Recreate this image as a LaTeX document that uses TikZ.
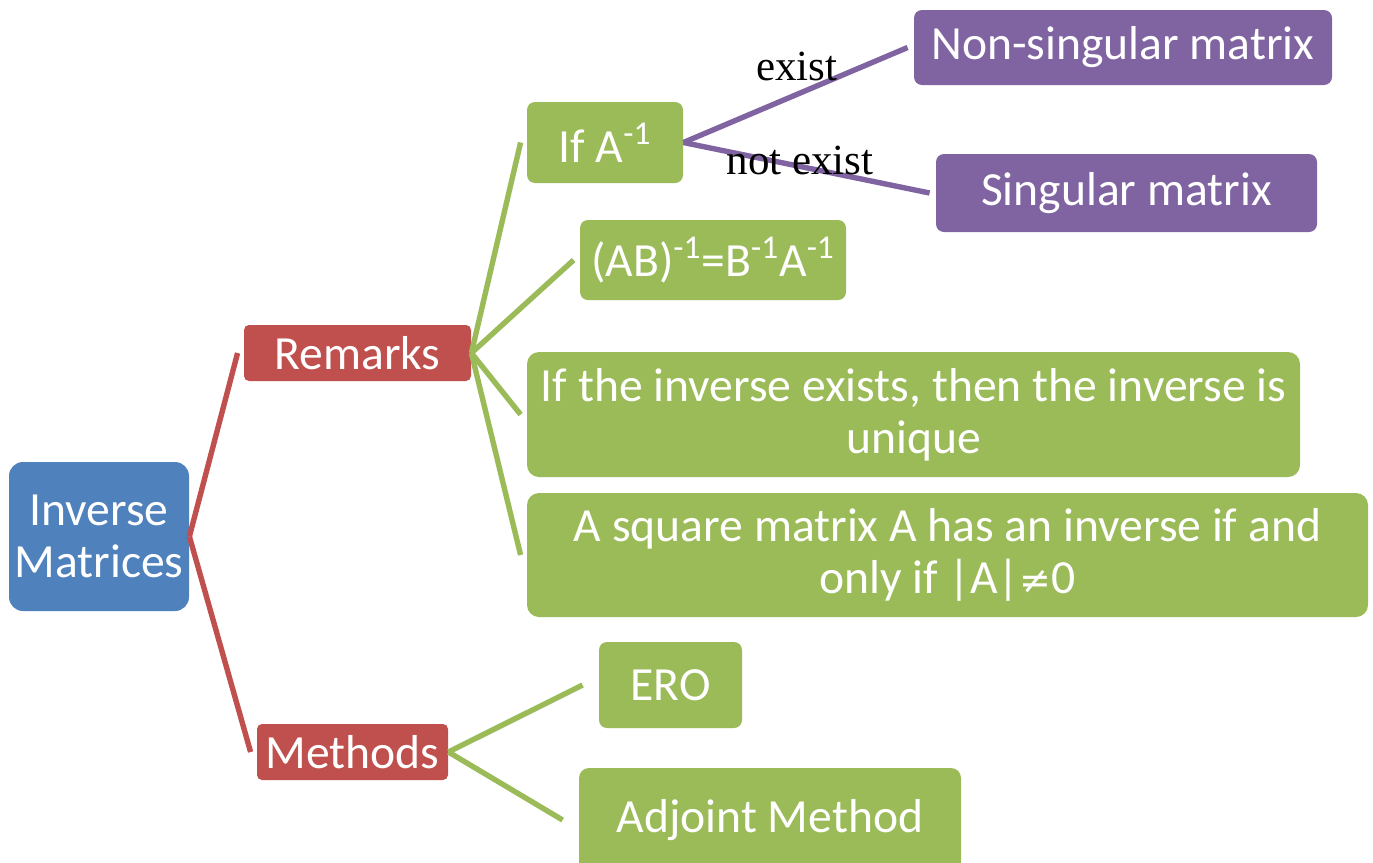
\documentclass[tikz,border=0pt]{standalone}
\usepackage{fontspec}
\setmainfont{Carlito}
\newfontfamily\labelfont{Liberation Serif}
\newfontfamily\symfont{DejaVu Sans}
\definecolor{rootblue}{HTML}{4F81BD}
\definecolor{levelred}{HTML}{C0504D}
\definecolor{leafgreen}{HTML}{9BBB59}
\definecolor{leafpurple}{HTML}{8064A2}
\tikzset{
  box/.style={fill=#1, draw=none, text=white, align=center, inner sep=0pt,
    font=\fontsize{23.8}{26}\selectfont},
  link/.style={draw=#1, line width=2.7pt, line cap=butt},
  edgelabel/.style={font=\labelfont\fontsize{21.5}{24}\selectfont, text=black, inner sep=0pt}
}
\newcommand{\inv}{\textsuperscript{-1}}
\begin{document}
\begin{tikzpicture}[x=0.5pt, y=-0.5pt]
  \useasboundingbox (0,0) rectangle (1373,863);
  \clip (0,0) rectangle (1373,863);

  % root and first level
  \node[box=rootblue, rounded corners=7pt, minimum width=90pt, minimum height=74.5pt]
    (root) at (99,536.5) {Inverse\\Matrices};
  \node[box=levelred, rounded corners=2.5pt, minimum width=113.5pt, minimum height=28pt]
    (remarks) at (357.5,353) {Remarks};
  \node[box=levelred, rounded corners=2.5pt, minimum width=95.5pt, minimum height=28pt]
    (methods) at (352.5,752) {Methods};

  % remarks
  \node[box=leafgreen, rounded corners=4pt, minimum width=78pt, minimum height=40.5pt]
    (ifa) at (605,142.5) {If A\inv};
  \node[box=leafgreen, rounded corners=4pt, minimum width=133pt, minimum height=40pt]
    (prod) at (713,260) {(AB)\inv=B\inv A\inv};
  \node[box=leafgreen, rounded corners=6pt, minimum width=386.5pt, minimum height=62.5pt]
    (unique) at (913.5,414.5) {If the inverse exists, then the inverse is\\unique};
  \node[box=leafgreen, rounded corners=6pt, minimum width=420.5pt, minimum height=62pt]
    (square) at (947.5,555) {A square matrix A has an inverse if and\\only if |A|{\symfont\fontsize{19}{26}\selectfont ≠}0};

  % methods
  \node[box=leafgreen, rounded corners=4pt, minimum width=71.5pt, minimum height=43pt]
    (ero) at (670.5,685) {ERO};
  \node[box=leafgreen, rounded corners=5pt, minimum width=191pt, minimum height=52pt]
    (adjoint) at (770,820) {Adjoint Method};

  % outcomes of A^{-1}
  \node[box=leafpurple, rounded corners=4pt, minimum width=209pt, minimum height=37.5pt]
    (nonsing) at (1123,47.5) {Non-singular matrix};
  \node[box=leafpurple, rounded corners=4pt, minimum width=190.5pt, minimum height=39pt]
    (sing) at (1126.5,193) {Singular matrix};

  % connectors
  \draw[link=levelred] (root.east) -- ([xshift=-3pt]remarks.west);
  \draw[link=levelred] (root.east) -- ([xshift=-3pt]methods.west);
  \foreach \c in {ifa,prod,unique,square}
    \draw[link=leafgreen] (remarks.east) -- ([xshift=-3pt]\c.west);
  \draw[link=leafgreen] (methods.east) -- ([xshift=-8pt]ero.west);
  \draw[link=leafgreen] (methods.east) -- ([xshift=-8pt]adjoint.west);
  \draw[link=leafpurple] (ifa.east) -- ([xshift=-3pt]nonsing.west);
  \draw[link=leafpurple] (ifa.east) -- ([xshift=-3pt]sing.west);

  % connector labels
  \node[edgelabel] (lexist) at (797,66) {exist};
  \node[edgelabel] (lnot) at (800,160) {not exist};
\end{tikzpicture}
\end{document}
